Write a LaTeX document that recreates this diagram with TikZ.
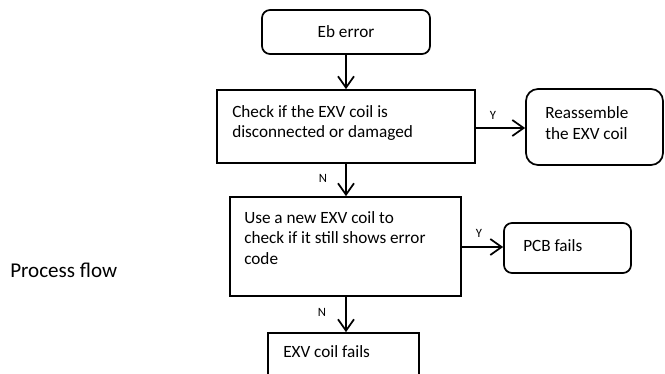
\documentclass[tikz,border=0pt]{standalone}
\usepackage{fontspec}
\setmainfont{Carlito}
\usetikzlibrary{arrows.meta}
\tikzset{
  box/.style={draw, line width=1.3pt, inner sep=0pt},
  rbox/.style={box, rounded corners=6pt},
  txt/.style={inner sep=0pt, align=left, anchor=west, font=\fontsize{12.9pt}{15.5pt}\selectfont},
  lbl/.style={inner sep=0pt, font=\fontsize{9.5pt}{10pt}\selectfont},
  arr/.style={line width=1.3pt, -{Straight Barb[length=8.5pt,width=12pt,line width=1.3pt]}},
}
\begin{document}
\begin{tikzpicture}[x=0.75pt,y=-0.75pt]
\useasboundingbox (0,0) rectangle (665,374);
\clip (0,0) rectangle (665,374);
\node[rbox, minimum width=168*0.75pt, minimum height=44*0.75pt] (eb) at (346,32) {};
\node[txt, anchor=center] (ebt) at (346,32) {Eb error};
\node[box, minimum width=258*0.75pt, minimum height=73*0.75pt] (check) at (346,126.5) {};
\node[txt] (checkt) at (232,123) {Check if the EXV coil is\\disconnected or damaged};
\node[rbox, rounded corners=9pt, minimum width=137*0.75pt, minimum height=76*0.75pt] (re) at (594.5,127) {};
\node[txt] (ret) at (545,123) {Reassemble\\the EXV coil};
\node[box, minimum width=231*0.75pt, minimum height=99*0.75pt] (use) at (345.5,246.5) {};
\node[txt] (uset) at (244,238) {Use a new EXV coil to\\check if it still shows error\\code};
\node[rbox, minimum width=127*0.75pt, minimum height=50*0.75pt] (pcb) at (567.5,248) {};
\node[txt] (pcbt) at (523,246) {PCB fails};
\node[box, minimum width=151*0.75pt, minimum height=52*0.75pt] (fails) at (343.5,359) {};
\node[txt] (failst) at (283,352) {EXV coil fails};
\node[txt, anchor=base west, font=\fontsize{15.8pt}{18pt}\selectfont] (pf) at (10,278) {Process flow};
\draw[arr] (eb.south) -- (check.north);
\draw[arr] (check.south) -- (check.south |- use.north);
\draw[arr] (use.south -| check.south) -- (check.south |- fails.north);
\draw[arr] (check.east |- 0,128) -- (re.west |- 0,128);
\draw[arr] (use.east |- 0,247) -- (pcb.west |- 0,247);
\node[lbl] (n1) at (323,178) {N};
\node[lbl] (n2) at (322,312) {N};
\node[lbl] (y1) at (493,115) {Y};
\node[lbl] (y2) at (479,233) {Y};
\end{tikzpicture}
\end{document}
